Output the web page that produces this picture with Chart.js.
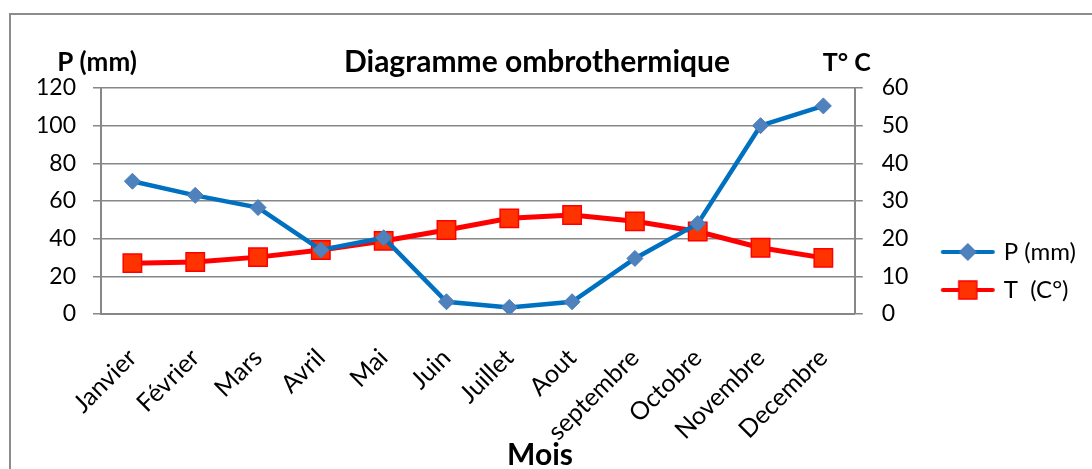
<!DOCTYPE html>
<html>
<head>
<meta charset="utf-8">
<script src="https://cdn.jsdelivr.net/npm/chart.js@4.4.1/dist/chart.umd.min.js"></script>
<style>
  html, body { margin: 0; padding: 0; background: #fff; }
  #wrap { width: 1092px; height: 469px; position: relative; }
</style>
</head>
<body>
<div id="wrap"><canvas id="ombroChart"></canvas></div>
<script>
// data
const months = ['Janvier', 'Février', 'Mars', 'Avril', 'Mai', 'Juin', 'Juillet', 'Aout', 'septembre', 'Octobre', 'Novembre', 'Decembre'];
const precip = [70.5, 63, 56.5, 34, 40.5, 6.5, 3.5, 6.5, 29.5, 48, 100, 110.5];
const temps = [13.5, 13.8, 15.1, 17, 19.4, 22.3, 25.4, 26.3, 24.6, 21.9, 17.6, 14.9];
const precipTicks = [0, 20, 40, 60, 80, 100, 120];
const tempTicks = [0, 10, 20, 30, 40, 50, 60];
const seriesNames = ['P (mm)', 'T  (C°)'];
const chartTitle = 'Diagramme ombrothermique';
const leftTitle = 'P (mm)';
const rightTitle = 'T° C';
const xTitle = 'Mois';

const FONT = 'Lato, "Open Sans", sans-serif';
const GRID = '#878787';

// little line + marker pictures for the legend
function legendIcon(lineColor, fill, stroke, shape) {
    const c = document.createElement('canvas');
    c.width = 56; c.height = 24;
    const g = c.getContext('2d');
    g.strokeStyle = lineColor; g.lineWidth = 4; g.lineCap = 'round';
    g.beginPath(); g.moveTo(3, 12); g.lineTo(53, 12); g.stroke();
    g.fillStyle = fill; g.strokeStyle = stroke; g.lineWidth = 1.5;
    g.beginPath();
    if (shape === 'diamond') {
        g.moveTo(28, 4); g.lineTo(36, 12); g.lineTo(28, 20); g.lineTo(20, 12);
    } else {
        g.rect(19, 3, 18, 18);
    }
    g.closePath(); g.fill(); g.stroke();
    return c;
}
const icons = [
    legendIcon('#0070C0', '#4F81BD', '#4A7EBB', 'diamond'),
    legendIcon('#FF0000', '#FF3300', '#FF0000', 'square')
];

const frameAndTexts = {
    id: 'frameAndTexts',
    beforeDraw(chart) {
        const ctx = chart.ctx;
        ctx.save();
        ctx.fillStyle = '#fff';
        ctx.fillRect(0, 0, chart.width, chart.height);
        ctx.strokeStyle = '#8c8c8c';
        ctx.lineWidth = 2;
        ctx.strokeRect(10, 14, 1200, 600);
        ctx.restore();
    },
    afterDraw(chart) {
        const ctx = chart.ctx;
        const a = chart.chartArea;
        ctx.save();
        ctx.fillStyle = '#000';
        ctx.textAlign = 'center';
        ctx.textBaseline = 'middle';
        ctx.font = 'bold 30px ' + FONT;
        ctx.fillText(chartTitle, 537, 62);
        ctx.font = 'bold 26px ' + FONT;
        ctx.fillText(leftTitle, a.left - 4, 63);
        ctx.font = 'bold 25px ' + FONT;
        ctx.fillText(rightTitle, a.right - 8, 63);
        ctx.font = 'bold 30px ' + FONT;
        ctx.fillText(xTitle, 540, 455);
        ctx.restore();
    }
};

new Chart(document.getElementById('ombroChart'), {
    type: 'line',
    data: {
        labels: months,
        datasets: [{
            label: seriesNames[0],
            data: precip,
            yAxisID: 'y',
            borderColor: '#0070C0',
            borderWidth: 4.5,
            pointStyle: 'rectRot',
            pointRadius: 8,
            pointBackgroundColor: '#4F81BD',
            pointBorderColor: '#4A7EBB',
            pointBorderWidth: 1,
            tension: 0
        }, {
            label: seriesNames[1],
            data: temps,
            yAxisID: 'y1',
            borderColor: '#FF0000',
            borderWidth: 5,
            pointStyle: 'rect',
            pointRadius: 13,
            pointBackgroundColor: '#FF3300',
            pointBorderColor: '#FF0000',
            pointBorderWidth: 1.5,
            tension: 0
        }]
    },
    options: {
        responsive: true,
        maintainAspectRatio: false,
        animation: false,
        layout: { padding: { top: 88, left: 38, right: 6, bottom: 15 } },
        plugins: {
            title: { display: false },
            tooltip: { enabled: false },
            legend: {
                position: 'right',
                labels: {
                    usePointStyle: true,
                    pointStyleWidth: 48,
                    padding: 14,
                    color: '#000',
                    font: { family: FONT, size: 24 },
                    generateLabels: chart => chart.data.datasets.map((ds, i) => ({
                        text: ds.label,
                        pointStyle: icons[i],
                        fillStyle: 'transparent',
                        strokeStyle: 'transparent',
                        lineWidth: 0,
                        hidden: false,
                        datasetIndex: i,
                        fontColor: '#000'
                    }))
                }
            }
        },
        scales: {
            x: {
                offset: true,
                grid: { display: false, drawTicks: false },
                border: { color: GRID, width: 2 },
                ticks: {
                    color: '#000',
                    font: { family: FONT, size: 25 },
                    minRotation: 45,
                    maxRotation: 45,
                    padding: 29
                },
                afterFit: s => { s.height = 140; }
            },
            y: {
                position: 'left',
                min: precipTicks[0],
                max: precipTicks[precipTicks.length - 1],
                grid: { color: GRID, lineWidth: 1.5, tickLength: 8 },
                border: { color: GRID, width: 2 },
                ticks: {
                    stepSize: precipTicks[1] - precipTicks[0],
                    padding: 17,
                    color: '#000',
                    font: { family: FONT, size: 23 }
                },
                afterFit: s => { s.width = 63; }
            },
            y1: {
                position: 'right',
                min: tempTicks[0],
                max: tempTicks[tempTicks.length - 1],
                grid: { drawOnChartArea: false, color: GRID, lineWidth: 1.5, tickLength: 8 },
                border: { color: GRID, width: 2 },
                ticks: {
                    stepSize: tempTicks[1] - tempTicks[0],
                    padding: 19,
                    color: '#000',
                    font: { family: FONT, size: 23 }
                },
                afterFit: s => { s.width = 75; }
            }
        }
    },
    plugins: [frameAndTexts]
});
</script>
</body>
</html>
